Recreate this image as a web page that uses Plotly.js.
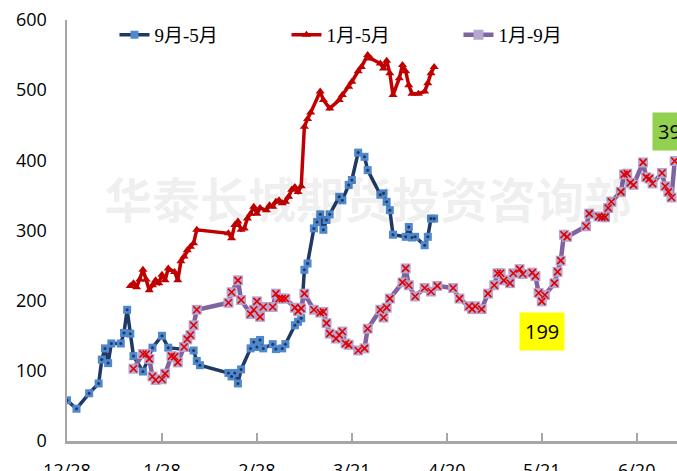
<!DOCTYPE html>
<html>
<head>
<meta charset="utf-8">
<script src="https://cdn.plot.ly/plotly-3.0.1.min.js"></script>
<style>
  html, body { margin: 0; padding: 0; width: 677px; height: 471px; overflow: hidden; background: #fff; }
  #chart { width: 710px; height: 501px; }
</style>
</head>
<body>
<div id="chart"></div>
<script>
// Category positions (trading-day index) and their axis labels
const tickIdx  = [0, 30, 60, 90, 120, 150, 180];
const tickText = ['12/28', '1/28', '2/28', '3/21', '4/20', '5/21', '6/20'];

// 9月-5月 spread
const s95X = [0, 3, 7, 10, 11, 12, 13, 14, 17, 18, 19, 20, 21, 24, 27, 30, 32, 40, 41, 42,
  51, 52, 53, 54, 55, 58, 59, 60, 61, 62, 65, 66, 68, 69, 72, 73, 74, 75, 76, 78,
  79, 80, 81, 82, 83, 86, 87, 89, 90, 92, 94, 95, 99, 100, 101, 102, 103, 107, 108, 109,
  110, 113, 114, 115, 116];
const s95Y = [58, 46, 68, 82, 116, 132, 111, 139, 139, 154, 187, 153, 121, 99, 133, 150, 133, 129, 114, 108,
  97, 92, 97, 82, 102, 132, 141, 134, 144, 132, 138, 131, 132, 138, 165, 170, 175, 244, 253, 303,
  312, 323, 301, 315, 323, 348, 343, 365, 372, 411, 405, 386, 351, 353, 341, 329, 294, 291, 305, 290,
  291, 279, 291, 317, 317];

// 1月-5月 spread
const s15X = [20, 21, 22, 23, 24, 25, 26, 27, 28, 29, 30, 31, 32, 34, 35, 36, 37, 38, 39, 40,
  41, 51, 52, 53, 54, 55, 56, 57, 58, 59, 60, 61, 63, 64, 65, 66, 67, 68, 69, 70,
  71, 72, 73, 74, 75, 76, 77, 80, 81, 83, 86, 87, 89, 90, 92, 93, 95, 96, 99, 100,
  101, 102, 103, 105, 106, 107, 108, 109, 111, 113, 114, 115, 116];
const s15Y = [221, 225, 219, 230, 244, 230, 215, 222, 229, 225, 237, 229, 246, 241, 229, 256, 263, 272, 277, 282,
  301, 296, 289, 308, 313, 301, 303, 317, 324, 334, 324, 332, 329, 336, 334, 341, 343, 339, 341, 348,
  358, 362, 355, 363, 448, 459, 468, 498, 486, 474, 486, 493, 505, 512, 527, 533, 550, 545, 538, 531,
  542, 524, 493, 517, 536, 527, 507, 495, 495, 498, 510, 524, 533];

// 1月-9月 spread
const s19X = [21, 24, 25, 26, 27, 28, 30, 31, 33, 34, 35, 37, 38, 39, 40, 41, 51, 52, 54, 55,
  58, 59, 60, 61, 62, 65, 66, 67, 68, 69, 72, 73, 74, 75, 78, 80, 81, 82, 83, 85,
  86, 87, 88, 89, 92, 94, 95, 99, 100, 101, 102, 106, 107, 108, 110, 113, 115, 117, 122, 124,
  127, 128, 129, 131, 133, 135, 136, 137, 138, 140, 141, 143, 144, 147, 148, 149, 150, 151, 154, 155,
  156, 157, 158, 164, 165, 168, 169, 170, 171, 172, 175, 176, 177, 178, 179, 182, 183, 184, 185, 188,
  189, 190, 191, 192];
const s19Y = [103, 124, 124, 117, 92, 87, 88, 96, 121, 120, 112, 134, 145, 151, 165, 187, 197, 212, 229, 201,
  181, 187, 199, 177, 191, 191, 210, 203, 203, 203, 190, 185, 189, 210, 187, 183, 184, 168, 153, 146,
  151, 156, 139, 137, 129, 132, 160, 187, 176, 190, 203, 226, 246, 222, 206, 218, 213, 221, 218, 203,
  192, 188, 192, 188, 210, 222, 239, 239, 229, 225, 239, 245, 238, 240, 235, 211, 199, 208, 225, 241,
  257, 294, 291, 306, 324, 320, 319, 319, 332, 341, 355, 380, 381, 368, 365, 397, 376, 374, 367, 382,
  363, 355, 347, 399];

const seriesNames = ['9月-5月', '1月-5月', '1月-9月'];

// points carrying a value label: [position in s19 arrays, background colour, vertical offset]
const labelled = [
  [s19X.indexOf(150), '#ffff00', 30],
  [s19X.length - 1, '#92d050', -30]
];

const traces = [
  { x: s95X, y: s95Y, name: seriesNames[0], type: 'scatter', mode: 'lines+markers',
    line: { color: '#1f3864', width: 3.5 },
    marker: { symbol: 'square', size: 8, color: '#4f88cc', line: { width: 0 } } },
  { x: s95X, y: s95Y, type: 'scatter', mode: 'markers', showlegend: false, hoverinfo: 'skip',
    marker: { symbol: 'circle', size: 3, color: '#1f3864' } },
  { x: s15X, y: s15Y, name: seriesNames[1], type: 'scatter', mode: 'lines+markers',
    line: { color: '#c00000', width: 3.5 },
    marker: { symbol: 'triangle-up', size: 8, color: '#c00000' } },
  { x: s19X, y: s19Y, name: seriesNames[2], type: 'scatter', mode: 'lines+markers',
    line: { color: '#8064a2', width: 4.5 },
    marker: { symbol: 'square', size: 10, color: '#b7a6cf', line: { width: 0 } } },
  { x: s19X, y: s19Y, type: 'scatter', mode: 'markers', showlegend: false, hoverinfo: 'skip',
    marker: { symbol: 'x-thin', size: 7, line: { color: '#e00000', width: 1.6 } } }
];

const annotations = [
  { text: '<b>华泰长城期货投资咨询部</b>', xref: 'paper', yref: 'paper', x: 0.475, y: 0.668,
    showarrow: false, font: { family: 'Noto Sans CJK SC', size: 48, color: 'rgba(0,0,0,0.075)' } }
];
labelled.forEach(([i, bg, dy]) => {
  annotations.push({
    x: s19X[i], y: s19Y[i], xref: 'x', yref: 'y', text: String(s19Y[i]),
    showarrow: true, arrowcolor: 'rgba(0,0,0,0)', ax: 0, ay: dy,
    bgcolor: bg, borderpad: 5,
    font: { family: 'Open Sans, Liberation Sans, sans-serif', size: 20, color: '#000' }
  });
});

const axisFont = { family: 'Open Sans, Liberation Sans, sans-serif', size: 18, color: '#000' };

const layout = {
  width: 710, height: 501,
  margin: { l: 67, r: 10, t: 20, b: 60, autoexpand: false },
  paper_bgcolor: '#fff', plot_bgcolor: 'rgba(0,0,0,0)',
  showlegend: true,
  legend: {
    orientation: 'h',
    x: 0.075, xanchor: 'left', y: 1.01, yanchor: 'top',
    entrywidth: 127, entrywidthmode: 'pixels',
    bgcolor: 'rgba(0,0,0,0)',
    font: { family: 'Liberation Serif, Noto Sans CJK SC, serif', size: 19, color: '#000' }
  },
  xaxis: {
    range: [0, 200], tickvals: tickIdx, ticktext: tickText,
    ticks: 'inside', ticklen: 8, tickwidth: 2, tickcolor: '#a6a6a6',
    showline: true, linecolor: '#a6a6a6', linewidth: 2.5,
    showgrid: false, zeroline: false, tickfont: axisFont, ticklabelstandoff: 12
  },
  yaxis: {
    range: [0, 600], tickvals: [0, 100, 200, 300, 400, 500, 600],
    ticks: '', showline: true, linecolor: '#a6a6a6', linewidth: 2.5,
    showgrid: false, zeroline: false, tickfont: axisFont, ticklabelstandoff: 14
  },
  annotations: annotations
};

Plotly.newPlot('chart', traces, layout, { staticPlot: true, displayModeBar: false });
</script>
</body>
</html>
